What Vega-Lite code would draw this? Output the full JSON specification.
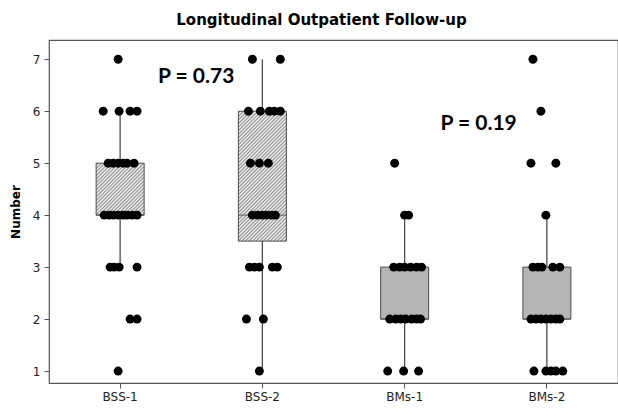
{
  "$schema": "https://vega.github.io/schema/vega-lite/v6.json",
  "width": 569,
  "height": 343,
  "autosize": {"type": "none"},
  "padding": {"left": 49, "top": 40, "right": 0, "bottom": 27},
  "background": "white",
  "title": {"text": "Longitudinal Outpatient Follow-up", "font": "DejaVu Sans", "fontSize": 15, "fontWeight": "bold", "color": "#000000", "anchor": "middle", "dx": -12, "offset": 12},
  "config": {
    "view": {"stroke": "#555555", "strokeWidth": 1.2},
    "axis": {"domain": false, "grid": false, "tickColor": "#555555", "tickSize": 5, "labelFont": "DejaVu Sans", "labelFontSize": 12, "labelColor": "#222222", "titleFont": "DejaVu Sans", "titleFontSize": 12, "titleFontWeight": "bold", "titleColor": "#000000"},
    "axisY": {"labelPadding": 4, "titlePadding": 10},
    "axisX": {"labelPadding": 3}
  },
  "datasets": {
    "points": [
      {"g": "BSS-1", "v": 7, "j": -0.014},
      {"g": "BSS-1", "v": 6, "j": -0.119}, {"g": "BSS-1", "v": 6, "j": -0.007}, {"g": "BSS-1", "v": 6, "j": 0.07}, {"g": "BSS-1", "v": 6, "j": 0.119},
      {"g": "BSS-1", "v": 5, "j": -0.084}, {"g": "BSS-1", "v": 5, "j": -0.049}, {"g": "BSS-1", "v": 5, "j": -0.014}, {"g": "BSS-1", "v": 5, "j": 0.021}, {"g": "BSS-1", "v": 5, "j": 0.049}, {"g": "BSS-1", "v": 5, "j": 0.098},
      {"g": "BSS-1", "v": 4, "j": -0.112}, {"g": "BSS-1", "v": 4, "j": -0.077}, {"g": "BSS-1", "v": 4, "j": -0.049}, {"g": "BSS-1", "v": 4, "j": -0.014}, {"g": "BSS-1", "v": 4, "j": 0.021}, {"g": "BSS-1", "v": 4, "j": 0.049}, {"g": "BSS-1", "v": 4, "j": 0.084}, {"g": "BSS-1", "v": 4, "j": 0.119},
      {"g": "BSS-1", "v": 3, "j": -0.07}, {"g": "BSS-1", "v": 3, "j": -0.042}, {"g": "BSS-1", "v": 3, "j": -0.007}, {"g": "BSS-1", "v": 3, "j": 0.119},
      {"g": "BSS-1", "v": 2, "j": 0.07}, {"g": "BSS-1", "v": 2, "j": 0.119},
      {"g": "BSS-1", "v": 1, "j": -0.014},
      {"g": "BSS-2", "v": 7, "j": -0.07}, {"g": "BSS-2", "v": 7, "j": 0.126},
      {"g": "BSS-2", "v": 6, "j": -0.098}, {"g": "BSS-2", "v": 6, "j": -0.014}, {"g": "BSS-2", "v": 6, "j": 0.049}, {"g": "BSS-2", "v": 6, "j": 0.084}, {"g": "BSS-2", "v": 6, "j": 0.126},
      {"g": "BSS-2", "v": 5, "j": -0.084}, {"g": "BSS-2", "v": 5, "j": -0.021}, {"g": "BSS-2", "v": 5, "j": 0.042},
      {"g": "BSS-2", "v": 4, "j": -0.07}, {"g": "BSS-2", "v": 4, "j": -0.035}, {"g": "BSS-2", "v": 4, "j": 0}, {"g": "BSS-2", "v": 4, "j": 0.028}, {"g": "BSS-2", "v": 4, "j": 0.063}, {"g": "BSS-2", "v": 4, "j": 0.091},
      {"g": "BSS-2", "v": 3, "j": -0.091}, {"g": "BSS-2", "v": 3, "j": -0.056}, {"g": "BSS-2", "v": 3, "j": -0.021}, {"g": "BSS-2", "v": 3, "j": 0.07}, {"g": "BSS-2", "v": 3, "j": 0.105},
      {"g": "BSS-2", "v": 2, "j": -0.112}, {"g": "BSS-2", "v": 2, "j": 0.007},
      {"g": "BSS-2", "v": 1, "j": -0.021},
      {"g": "BMs-1", "v": 5, "j": -0.07},
      {"g": "BMs-1", "v": 4, "j": 0}, {"g": "BMs-1", "v": 4, "j": 0.028},
      {"g": "BMs-1", "v": 3, "j": -0.077}, {"g": "BMs-1", "v": 3, "j": -0.035}, {"g": "BMs-1", "v": 3, "j": 0}, {"g": "BMs-1", "v": 3, "j": 0.042}, {"g": "BMs-1", "v": 3, "j": 0.084}, {"g": "BMs-1", "v": 3, "j": 0.119},
      {"g": "BMs-1", "v": 2, "j": -0.105}, {"g": "BMs-1", "v": 2, "j": -0.063}, {"g": "BMs-1", "v": 2, "j": -0.028}, {"g": "BMs-1", "v": 2, "j": 0.007}, {"g": "BMs-1", "v": 2, "j": 0.049}, {"g": "BMs-1", "v": 2, "j": 0.084}, {"g": "BMs-1", "v": 2, "j": 0.112},
      {"g": "BMs-1", "v": 1, "j": -0.119}, {"g": "BMs-1", "v": 1, "j": -0.007}, {"g": "BMs-1", "v": 1, "j": 0.098},
      {"g": "BMs-2", "v": 7, "j": -0.098},
      {"g": "BMs-2", "v": 6, "j": -0.042},
      {"g": "BMs-2", "v": 5, "j": -0.112}, {"g": "BMs-2", "v": 5, "j": 0.063},
      {"g": "BMs-2", "v": 4, "j": -0.007},
      {"g": "BMs-2", "v": 3, "j": -0.098}, {"g": "BMs-2", "v": 3, "j": -0.063}, {"g": "BMs-2", "v": 3, "j": -0.035}, {"g": "BMs-2", "v": 3, "j": 0.042}, {"g": "BMs-2", "v": 3, "j": 0.091},
      {"g": "BMs-2", "v": 2, "j": -0.112}, {"g": "BMs-2", "v": 2, "j": -0.077}, {"g": "BMs-2", "v": 2, "j": -0.042}, {"g": "BMs-2", "v": 2, "j": -0.007}, {"g": "BMs-2", "v": 2, "j": 0.028}, {"g": "BMs-2", "v": 2, "j": 0.063}, {"g": "BMs-2", "v": 2, "j": 0.091},
      {"g": "BMs-2", "v": 1, "j": -0.091}, {"g": "BMs-2", "v": 1, "j": -0.007}, {"g": "BMs-2", "v": 1, "j": 0.028}, {"g": "BMs-2", "v": 1, "j": 0.063}, {"g": "BMs-2", "v": 1, "j": 0.112}
    ],
    "boxes": [
      {"g": "BSS-1", "lo": 3, "q1": 4, "med": 4, "q3": 5, "hi": 6},
      {"g": "BSS-2", "lo": 1, "q1": 3.5, "med": 4, "q3": 6, "hi": 7},
      {"g": "BMs-1", "lo": 1, "q1": 2, "med": 2, "q3": 3, "hi": 4},
      {"g": "BMs-2", "lo": 1, "q1": 2, "med": 2, "q3": 3, "hi": 4}
    ],
    "notes": [
      {"g": "BSS-1", "v": 6.66, "j": 0.535, "label": "P = 0.73"},
      {"g": "BMs-1", "v": 5.75, "j": 0.52, "label": "P = 0.19"}
    ]
  },
  "layer": [
    {
      "data": {"name": "boxes"},
      "mark": {"type": "rule", "color": "#4d4d4d", "strokeWidth": 1.3},
      "encoding": {
        "x": {"field": "g", "type": "nominal", "sort": ["BSS-1", "BSS-2", "BMs-1", "BMs-2"], "scale": {"paddingInner": 0, "paddingOuter": 0}, "axis": {"title": null, "labelAngle": 0}},
        "y": {"field": "lo", "type": "quantitative", "scale": {"domain": [0.77, 7.37], "nice": false, "zero": false}, "axis": {"title": "Number", "values": [1, 2, 3, 4, 5, 6, 7]}},
        "y2": {"field": "hi"}
      }
    },
    {
      "data": {"name": "boxes"},
      "transform": [{"filter": "datum.g === 'BSS-1'"}],
      "mark": {"type": "bar", "width": 48, "stroke": "#4d4d4d", "strokeWidth": 1,
        "fill": {"gradient": "linear", "x1": 0, "y1": 0, "x2": 1.707, "y2": 1.835, "stops": [
          {"offset": 0, "color": "#ffffff"}, {"offset": 0.01, "color": "#8c8c8c"}, {"offset": 0.02, "color": "#ffffff"}, {"offset": 0.03, "color": "#8c8c8c"}, {"offset": 0.04, "color": "#ffffff"}, {"offset": 0.05, "color": "#8c8c8c"}, {"offset": 0.06, "color": "#ffffff"}, {"offset": 0.07, "color": "#8c8c8c"}, {"offset": 0.08, "color": "#ffffff"}, {"offset": 0.09, "color": "#8c8c8c"},
          {"offset": 0.1, "color": "#ffffff"}, {"offset": 0.11, "color": "#8c8c8c"}, {"offset": 0.12, "color": "#ffffff"}, {"offset": 0.13, "color": "#8c8c8c"}, {"offset": 0.14, "color": "#ffffff"}, {"offset": 0.15, "color": "#8c8c8c"}, {"offset": 0.16, "color": "#ffffff"}, {"offset": 0.17, "color": "#8c8c8c"}, {"offset": 0.18, "color": "#ffffff"}, {"offset": 0.19, "color": "#8c8c8c"},
          {"offset": 0.2, "color": "#ffffff"}, {"offset": 0.21, "color": "#8c8c8c"}, {"offset": 0.22, "color": "#ffffff"}, {"offset": 0.23, "color": "#8c8c8c"}, {"offset": 0.24, "color": "#ffffff"}, {"offset": 0.25, "color": "#8c8c8c"}, {"offset": 0.26, "color": "#ffffff"}, {"offset": 0.27, "color": "#8c8c8c"}, {"offset": 0.28, "color": "#ffffff"}, {"offset": 0.29, "color": "#8c8c8c"},
          {"offset": 0.3, "color": "#ffffff"}, {"offset": 0.31, "color": "#8c8c8c"}, {"offset": 0.32, "color": "#ffffff"}, {"offset": 0.33, "color": "#8c8c8c"}, {"offset": 0.34, "color": "#ffffff"}, {"offset": 0.35, "color": "#8c8c8c"}, {"offset": 0.36, "color": "#ffffff"}, {"offset": 0.37, "color": "#8c8c8c"}, {"offset": 0.38, "color": "#ffffff"}, {"offset": 0.39, "color": "#8c8c8c"},
          {"offset": 0.4, "color": "#ffffff"}, {"offset": 0.41, "color": "#8c8c8c"}, {"offset": 0.42, "color": "#ffffff"}, {"offset": 0.43, "color": "#8c8c8c"}, {"offset": 0.44, "color": "#ffffff"}, {"offset": 0.45, "color": "#8c8c8c"}, {"offset": 0.46, "color": "#ffffff"}, {"offset": 0.47, "color": "#8c8c8c"}, {"offset": 0.48, "color": "#ffffff"}, {"offset": 0.49, "color": "#8c8c8c"},
          {"offset": 0.5, "color": "#ffffff"}, {"offset": 0.51, "color": "#8c8c8c"}, {"offset": 0.52, "color": "#ffffff"}, {"offset": 0.53, "color": "#8c8c8c"}, {"offset": 0.54, "color": "#ffffff"}, {"offset": 0.55, "color": "#8c8c8c"}, {"offset": 0.56, "color": "#ffffff"}, {"offset": 0.57, "color": "#8c8c8c"}, {"offset": 0.58, "color": "#ffffff"}, {"offset": 0.59, "color": "#8c8c8c"},
          {"offset": 0.6, "color": "#ffffff"}, {"offset": 0.61, "color": "#8c8c8c"}, {"offset": 0.62, "color": "#ffffff"}, {"offset": 0.63, "color": "#8c8c8c"}, {"offset": 0.64, "color": "#ffffff"}, {"offset": 0.65, "color": "#8c8c8c"}, {"offset": 0.66, "color": "#ffffff"}, {"offset": 0.67, "color": "#8c8c8c"}, {"offset": 0.68, "color": "#ffffff"}, {"offset": 0.69, "color": "#8c8c8c"},
          {"offset": 0.7, "color": "#ffffff"}, {"offset": 0.71, "color": "#8c8c8c"}, {"offset": 0.72, "color": "#ffffff"}, {"offset": 0.73, "color": "#8c8c8c"}, {"offset": 0.74, "color": "#ffffff"}, {"offset": 0.75, "color": "#8c8c8c"}, {"offset": 0.76, "color": "#ffffff"}, {"offset": 0.77, "color": "#8c8c8c"}, {"offset": 0.78, "color": "#ffffff"}, {"offset": 0.79, "color": "#8c8c8c"},
          {"offset": 0.8, "color": "#ffffff"}, {"offset": 0.81, "color": "#8c8c8c"}, {"offset": 0.82, "color": "#ffffff"}, {"offset": 0.83, "color": "#8c8c8c"}, {"offset": 0.84, "color": "#ffffff"}, {"offset": 0.85, "color": "#8c8c8c"}, {"offset": 0.86, "color": "#ffffff"}, {"offset": 0.87, "color": "#8c8c8c"}, {"offset": 0.88, "color": "#ffffff"}, {"offset": 0.89, "color": "#8c8c8c"},
          {"offset": 0.9, "color": "#ffffff"}, {"offset": 0.91, "color": "#8c8c8c"}, {"offset": 0.92, "color": "#ffffff"}, {"offset": 0.93, "color": "#8c8c8c"}, {"offset": 0.94, "color": "#ffffff"}, {"offset": 0.95, "color": "#8c8c8c"}, {"offset": 0.96, "color": "#ffffff"}, {"offset": 0.97, "color": "#8c8c8c"}, {"offset": 0.98, "color": "#ffffff"}, {"offset": 0.99, "color": "#8c8c8c"},
          {"offset": 1, "color": "#ffffff"}
        ]}},
      "encoding": {
        "x": {"field": "g", "type": "nominal", "sort": ["BSS-1", "BSS-2", "BMs-1", "BMs-2"]},
        "y": {"field": "q1", "type": "quantitative", "axis": {"title": "Number"}},
        "y2": {"field": "q3"}
      }
    },
    {
      "data": {"name": "boxes"},
      "transform": [{"filter": "datum.g === 'BSS-2'"}],
      "mark": {"type": "bar", "width": 48, "stroke": "#4d4d4d", "strokeWidth": 1,
        "fill": {"gradient": "linear", "x1": 0, "y1": 0, "x2": 0.4475, "y2": 1.203, "stops": [
          {"offset": 0, "color": "#ffffff"}, {"offset": 0.01, "color": "#8c8c8c"}, {"offset": 0.02, "color": "#ffffff"}, {"offset": 0.03, "color": "#8c8c8c"}, {"offset": 0.04, "color": "#ffffff"}, {"offset": 0.05, "color": "#8c8c8c"}, {"offset": 0.06, "color": "#ffffff"}, {"offset": 0.07, "color": "#8c8c8c"}, {"offset": 0.08, "color": "#ffffff"}, {"offset": 0.09, "color": "#8c8c8c"},
          {"offset": 0.1, "color": "#ffffff"}, {"offset": 0.11, "color": "#8c8c8c"}, {"offset": 0.12, "color": "#ffffff"}, {"offset": 0.13, "color": "#8c8c8c"}, {"offset": 0.14, "color": "#ffffff"}, {"offset": 0.15, "color": "#8c8c8c"}, {"offset": 0.16, "color": "#ffffff"}, {"offset": 0.17, "color": "#8c8c8c"}, {"offset": 0.18, "color": "#ffffff"}, {"offset": 0.19, "color": "#8c8c8c"},
          {"offset": 0.2, "color": "#ffffff"}, {"offset": 0.21, "color": "#8c8c8c"}, {"offset": 0.22, "color": "#ffffff"}, {"offset": 0.23, "color": "#8c8c8c"}, {"offset": 0.24, "color": "#ffffff"}, {"offset": 0.25, "color": "#8c8c8c"}, {"offset": 0.26, "color": "#ffffff"}, {"offset": 0.27, "color": "#8c8c8c"}, {"offset": 0.28, "color": "#ffffff"}, {"offset": 0.29, "color": "#8c8c8c"},
          {"offset": 0.3, "color": "#ffffff"}, {"offset": 0.31, "color": "#8c8c8c"}, {"offset": 0.32, "color": "#ffffff"}, {"offset": 0.33, "color": "#8c8c8c"}, {"offset": 0.34, "color": "#ffffff"}, {"offset": 0.35, "color": "#8c8c8c"}, {"offset": 0.36, "color": "#ffffff"}, {"offset": 0.37, "color": "#8c8c8c"}, {"offset": 0.38, "color": "#ffffff"}, {"offset": 0.39, "color": "#8c8c8c"},
          {"offset": 0.4, "color": "#ffffff"}, {"offset": 0.41, "color": "#8c8c8c"}, {"offset": 0.42, "color": "#ffffff"}, {"offset": 0.43, "color": "#8c8c8c"}, {"offset": 0.44, "color": "#ffffff"}, {"offset": 0.45, "color": "#8c8c8c"}, {"offset": 0.46, "color": "#ffffff"}, {"offset": 0.47, "color": "#8c8c8c"}, {"offset": 0.48, "color": "#ffffff"}, {"offset": 0.49, "color": "#8c8c8c"},
          {"offset": 0.5, "color": "#ffffff"}, {"offset": 0.51, "color": "#8c8c8c"}, {"offset": 0.52, "color": "#ffffff"}, {"offset": 0.53, "color": "#8c8c8c"}, {"offset": 0.54, "color": "#ffffff"}, {"offset": 0.55, "color": "#8c8c8c"}, {"offset": 0.56, "color": "#ffffff"}, {"offset": 0.57, "color": "#8c8c8c"}, {"offset": 0.58, "color": "#ffffff"}, {"offset": 0.59, "color": "#8c8c8c"},
          {"offset": 0.6, "color": "#ffffff"}, {"offset": 0.61, "color": "#8c8c8c"}, {"offset": 0.62, "color": "#ffffff"}, {"offset": 0.63, "color": "#8c8c8c"}, {"offset": 0.64, "color": "#ffffff"}, {"offset": 0.65, "color": "#8c8c8c"}, {"offset": 0.66, "color": "#ffffff"}, {"offset": 0.67, "color": "#8c8c8c"}, {"offset": 0.68, "color": "#ffffff"}, {"offset": 0.69, "color": "#8c8c8c"},
          {"offset": 0.7, "color": "#ffffff"}, {"offset": 0.71, "color": "#8c8c8c"}, {"offset": 0.72, "color": "#ffffff"}, {"offset": 0.73, "color": "#8c8c8c"}, {"offset": 0.74, "color": "#ffffff"}, {"offset": 0.75, "color": "#8c8c8c"}, {"offset": 0.76, "color": "#ffffff"}, {"offset": 0.77, "color": "#8c8c8c"}, {"offset": 0.78, "color": "#ffffff"}, {"offset": 0.79, "color": "#8c8c8c"},
          {"offset": 0.8, "color": "#ffffff"}, {"offset": 0.81, "color": "#8c8c8c"}, {"offset": 0.82, "color": "#ffffff"}, {"offset": 0.83, "color": "#8c8c8c"}, {"offset": 0.84, "color": "#ffffff"}, {"offset": 0.85, "color": "#8c8c8c"}, {"offset": 0.86, "color": "#ffffff"}, {"offset": 0.87, "color": "#8c8c8c"}, {"offset": 0.88, "color": "#ffffff"}, {"offset": 0.89, "color": "#8c8c8c"},
          {"offset": 0.9, "color": "#ffffff"}, {"offset": 0.91, "color": "#8c8c8c"}, {"offset": 0.92, "color": "#ffffff"}, {"offset": 0.93, "color": "#8c8c8c"}, {"offset": 0.94, "color": "#ffffff"}, {"offset": 0.95, "color": "#8c8c8c"}, {"offset": 0.96, "color": "#ffffff"}, {"offset": 0.97, "color": "#8c8c8c"}, {"offset": 0.98, "color": "#ffffff"}, {"offset": 0.99, "color": "#8c8c8c"},
          {"offset": 1, "color": "#ffffff"}
        ]}},
      "encoding": {
        "x": {"field": "g", "type": "nominal", "sort": ["BSS-1", "BSS-2", "BMs-1", "BMs-2"]},
        "y": {"field": "q1", "type": "quantitative", "axis": {"title": "Number"}},
        "y2": {"field": "q3"}
      }
    },
    {
      "data": {"name": "boxes"},
      "transform": [{"filter": "datum.g === 'BMs-1' || datum.g === 'BMs-2'"}],
      "mark": {"type": "bar", "width": 48, "stroke": "#4d4d4d", "strokeWidth": 1, "fill": "#b5b5b5"},
      "encoding": {
        "x": {"field": "g", "type": "nominal", "sort": ["BSS-1", "BSS-2", "BMs-1", "BMs-2"]},
        "y": {"field": "q1", "type": "quantitative", "axis": {"title": "Number"}},
        "y2": {"field": "q3"}
      }
    },
    {
      "data": {"name": "boxes"},
      "mark": {"type": "tick", "size": 48, "thickness": 1.2, "color": "#4d4d4d"},
      "encoding": {
        "x": {"field": "g", "type": "nominal", "sort": ["BSS-1", "BSS-2", "BMs-1", "BMs-2"]},
        "y": {"field": "med", "type": "quantitative", "axis": {"title": "Number"}}
      }
    },
    {
      "data": {"name": "points"},
      "mark": {"type": "circle", "size": 80, "color": "#000000", "opacity": 1},
      "encoding": {
        "x": {"field": "g", "type": "nominal", "sort": ["BSS-1", "BSS-2", "BMs-1", "BMs-2"]},
        "xOffset": {"field": "j", "type": "quantitative", "scale": {"domain": [-0.5, 0.5]}},
        "y": {"field": "v", "type": "quantitative", "axis": {"title": "Number"}}
      }
    },
    {
      "data": {"name": "notes"},
      "mark": {"type": "text", "font": "Lato", "fontSize": 21, "fontWeight": "bold", "color": "#000000", "align": "center", "baseline": "middle"},
      "encoding": {
        "x": {"field": "g", "type": "nominal", "sort": ["BSS-1", "BSS-2", "BMs-1", "BMs-2"]},
        "xOffset": {"field": "j", "type": "quantitative"},
        "y": {"field": "v", "type": "quantitative", "axis": {"title": "Number"}},
        "text": {"field": "label"}
      }
    }
  ]
}
